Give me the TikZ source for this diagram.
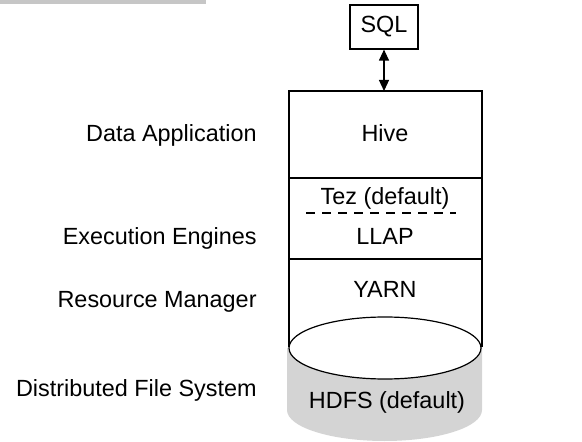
\documentclass[tikz,border=0pt]{standalone}
\usepackage{fontspec}
\setmainfont{Liberation Sans}
\usetikzlibrary{arrows.meta}

\definecolor{bargray}{HTML}{C6C6C6}
\definecolor{hdfsgray}{HTML}{D4D4D4}

\tikzset{
  txt/.style={font=\fontsize{11.7}{13}\selectfont, inner sep=0pt},
  layer/.style={txt, anchor=east},
  sqlbox/.style={draw, line width=0.6pt, txt, minimum width=34pt, minimum height=22pt},
  stack/.style={line width=0.6pt}
}

\begin{document}
\begin{tikzpicture}[x=0.5pt,y=-0.5pt]
\useasboundingbox (0,0) rectangle (582,442);
\fill[bargray] (0,0) rectangle (206,4);

\node[sqlbox] (sql) at (384,27) {SQL};
\coordinate (top) at (384,91);
\coordinate (cut1) at (306,213);
\coordinate (cut2) at (456,213);

% hdfs cylinder
\fill[hdfsgray] (287,348) -- (287,410) arc[start angle=180, end angle=360, x radius=48.75pt, y radius=15.5pt] -- (482,348) -- cycle;

% stack box
\draw[stack] (289,347) -- (289,91) -- (482,91) -- (482,347);
\draw[stack] (289,178) -- (482,178);
\draw[stack] (289,259) -- (482,259);
\draw[stack, dash pattern=on 4.5pt off 3.5pt] (cut1) -- (cut2);
\draw[stack, fill=white] (385,348) ellipse [x radius=48pt, y radius=15.5pt];

\draw[stack, {Triangle[length=5.5pt,width=5pt]}-{Triangle[length=5.5pt,width=5pt]}] (sql.south) -- (top);

\node[txt] (hive) at (385,133) {Hive};
\node[txt] (tez) at (385,198) {Tez (default)};
\node[txt] (llap) at (385,236) {LLAP};
\node[txt] (yarn) at (385,289) {YARN};
\node[txt] (hdfs) at (387,402) {HDFS (default)};

\node[layer] (app) at (257,135) {Data Application};
\node[layer] (exec) at (257,238) {Execution Engines};
\node[layer] (res) at (257,302) {Resource Manager};
\node[layer] (dfs) at (257,390) {Distributed File System};

\end{tikzpicture}
\end{document}
